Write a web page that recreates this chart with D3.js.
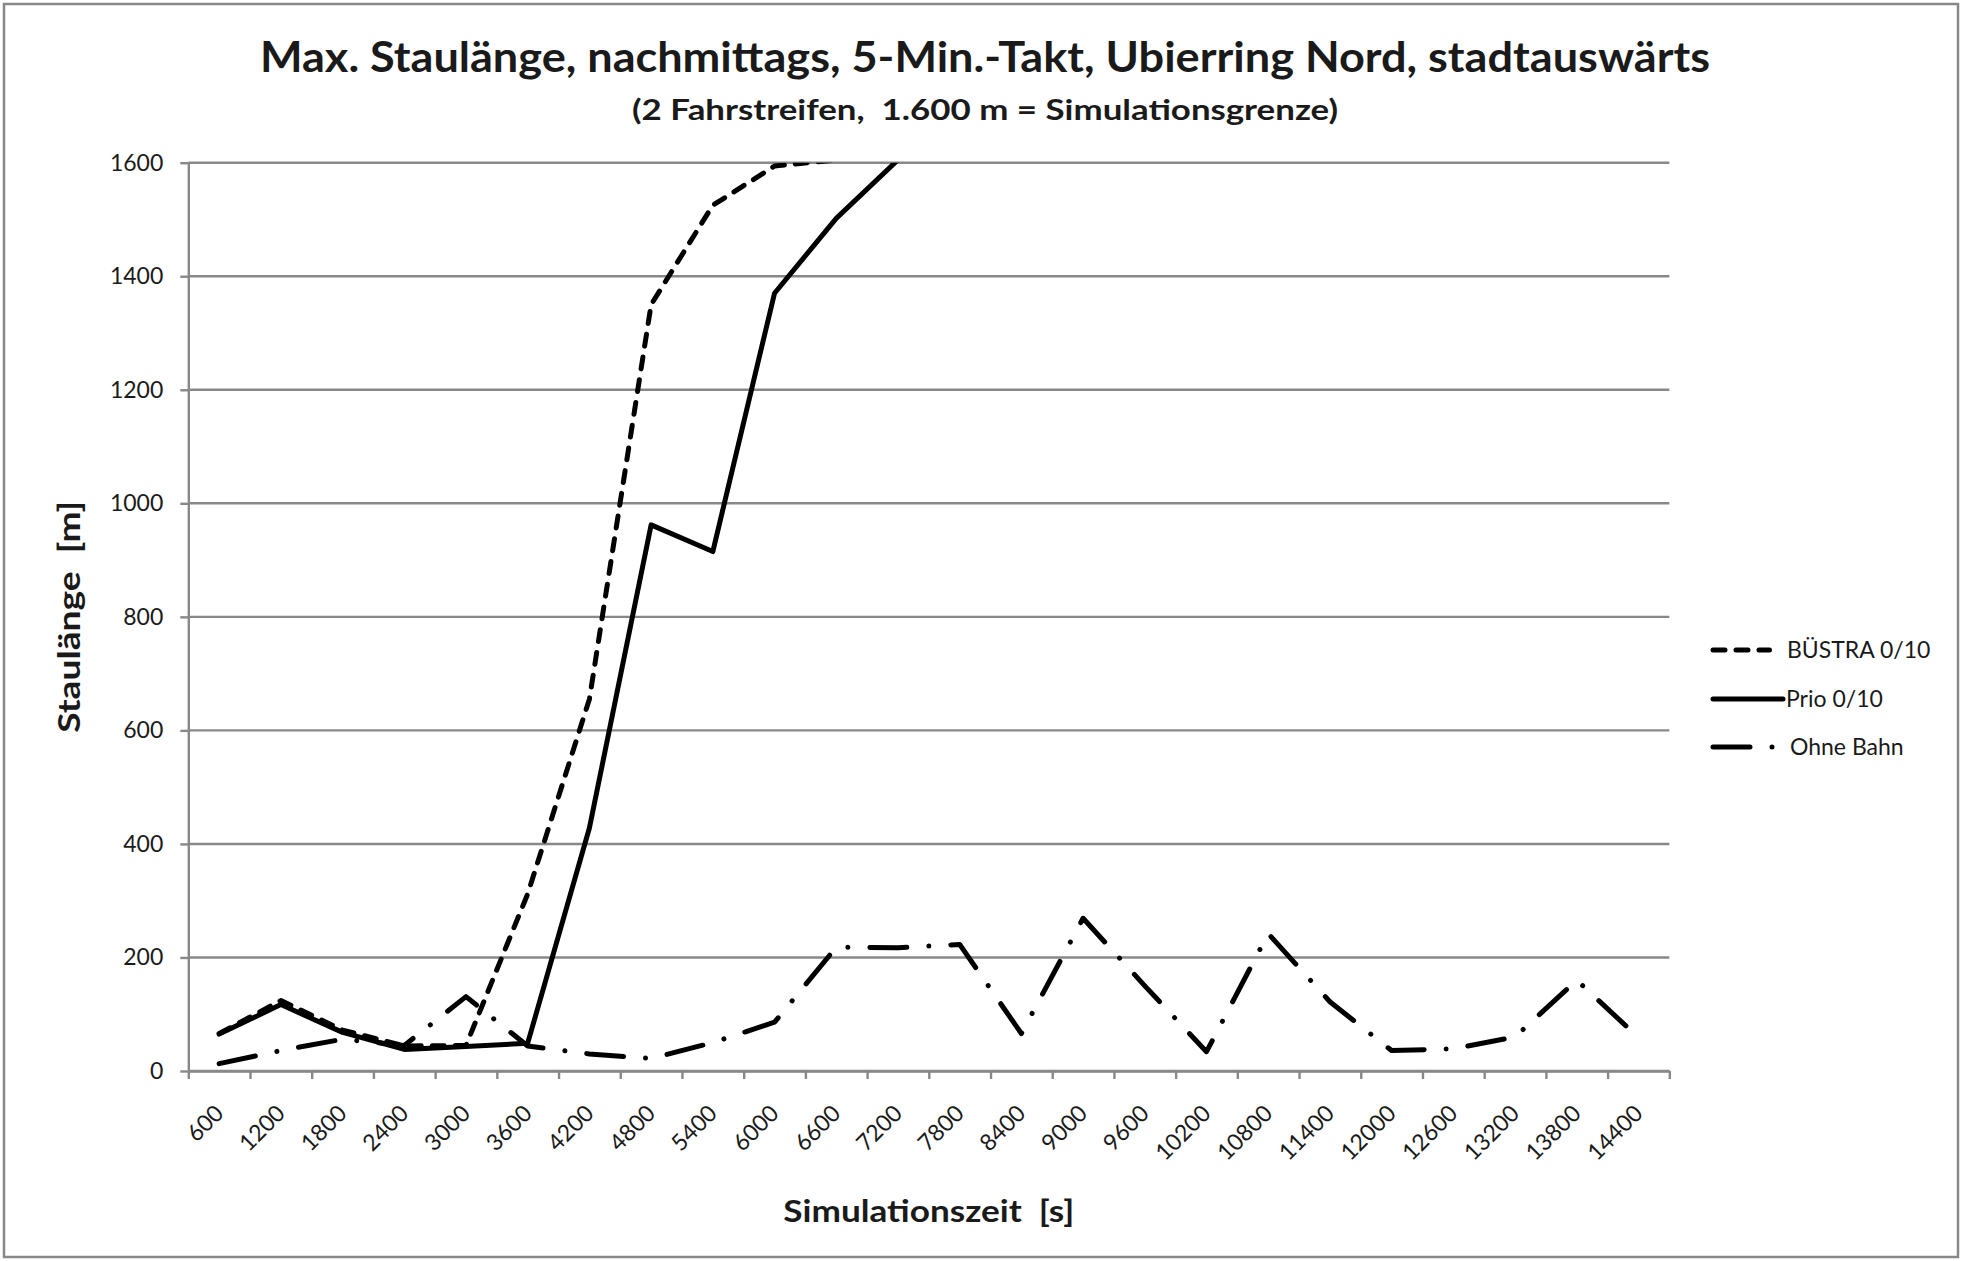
<!DOCTYPE html>
<html>
<head>
<meta charset="utf-8">
<script src="https://cdn.jsdelivr.net/npm/d3@7"></script>
<style>
  body { margin: 0; background: #fff; }
  text { font-family: Lato, "Open Sans", sans-serif; fill: #1a1a1a; }
</style>
</head>
<body>
<div id="figure-container"></div>
<script>
// categories (Simulationszeit [s])
var categories = ['600', '1200', '1800', '2400', '3000', '3600', '4200', '4800', '5400', '6000',
  '6600', '7200', '7800', '8400', '9000', '9600', '10200', '10800', '11400', '12000',
  '12600', '13200', '13800', '14400'];

// max. Staulänge [m]; null = beyond the simulation limit (not drawn)
var buestra = [66, 124, 72, 44, 45, 312, 655, 1350, 1525, 1594,
  1605, null, null, null, null, null, null, null, null, null,
  null, null, null, null];

var prio = [65, 117, 68, 38, 43, 49, 428, 962, 915, 1370,
  1502, 1605, null, null, null, null, null, null, null, null,
  null, null, null, null];

var ohneBahn = [13, 36, 56, 45, 131, 44, 30, 22, 50, 86,
  218, 217, 223, 66, 269, 150, 34, 242, 122, 36,
  39, 60, 160, 59];

var yTicks = [0, 200, 400, 600, 800, 1000, 1200, 1400, 1600];

var series = [
  {name: 'BÜSTRA 0/10', values: buestra, dash: '12 11'},
  {name: 'Prio 0/10', values: prio, dash: null},
  {name: 'Ohne Bahn', values: ohneBahn, dash: '37 22 0.01 22'}
];

var fullWidth = 1966;
var fullHeight = 1261;
var plot = {left: 188.3, right: 1669.3, top: 162.7, bottom: 1071};
var gridColor = '#888888';

var xScale = d3.scaleBand()
  .domain(categories)
  .range([plot.left, plot.right])
  .padding(0);

// boundaries between categories, for the tick marks
var xEdges = d3.scaleLinear()
  .domain([0, categories.length])
  .range([plot.left, plot.right]);

var yScale = d3.scaleLinear()
  .domain([0, 1600])
  .range([plot.bottom, plot.top]);

var svg = d3.select('#figure-container')
  .append('svg')
  .attr('width', fullWidth)
  .attr('height', fullHeight);

// chart border
svg.append('rect')
  .attr('x', 4)
  .attr('y', 4)
  .attr('width', 1954)
  .attr('height', 1253)
  .attr('fill', '#fff')
  .attr('stroke', gridColor)
  .attr('stroke-width', 2.5);

// titles
svg.append('text')
  .attr('x', 985)
  .attr('y', 72)
  .attr('text-anchor', 'middle')
  .attr('font-size', 42)
  .attr('font-weight', 'bold')
  .attr('textLength', 1450)
  .attr('lengthAdjust', 'spacingAndGlyphs')
  .text('Max. Staulänge, nachmittags, 5-Min.-Takt, Ubierring Nord, stadtauswärts');

svg.append('text')
  .attr('x', 985)
  .attr('y', 120)
  .attr('text-anchor', 'middle')
  .attr('font-size', 28)
  .attr('font-weight', 'bold')
  .attr('textLength', 706)
  .attr('lengthAdjust', 'spacingAndGlyphs')
  .attr('xml:space', 'preserve')
  .style('white-space', 'pre')
  .text('(2 Fahrstreifen,  1.600 m = Simulationsgrenze)');

// horizontal gridlines
svg.append('g')
  .attr('class', 'grid')
  .selectAll('line')
  .data(yTicks)
  .enter()
    .append('line')
    .attr('x1', plot.left)
    .attr('x2', plot.right)
    .attr('y1', function(d) { return yScale(d); })
    .attr('y2', function(d) { return yScale(d); })
    .attr('stroke', gridColor)
    .attr('stroke-width', 2.4);

// y axis
var yAxis = d3.axisLeft(yScale)
  .tickValues(yTicks)
  .tickSize(8)
  .tickSizeOuter(0)
  .tickPadding(17)
  .tickFormat(d3.format('d'));

var gy = svg.append('g')
  .attr('class', 'axis y')
  .attr('transform', `translate(${plot.left},0)`)
  .call(yAxis);
gy.selectAll('path, line').attr('stroke', gridColor).attr('stroke-width', 2.4);
gy.selectAll('text').attr('font-size', 23).attr('fill', '#1a1a1a').style('font-family', 'Lato');

// x axis: tick marks on the category boundaries
var xTickAxis = d3.axisBottom(xEdges)
  .tickValues(d3.range(categories.length + 1))
  .tickSize(8)
  .tickSizeOuter(0)
  .tickFormat('');

var gxt = svg.append('g')
  .attr('class', 'axis x')
  .attr('transform', `translate(0,${plot.bottom})`)
  .call(xTickAxis);
gxt.selectAll('path, line').attr('stroke', gridColor).attr('stroke-width', 2.4);

// x axis labels, rotated
var xAxis = d3.axisBottom(xScale).tickSize(0).tickSizeOuter(0);
var gx = svg.append('g')
  .attr('class', 'axis x-labels')
  .attr('transform', `translate(0,${plot.bottom})`)
  .call(xAxis);
gx.select('.domain').remove();
gx.selectAll('text')
  .attr('y', 0)
  .attr('dy', '0.35em')
  .attr('text-anchor', 'end')
  .attr('transform', 'translate(0,38) rotate(-45)')
  .attr('font-size', 23)
  .attr('fill', '#1a1a1a')
  .style('font-family', 'Lato');

// axis titles
svg.append('text')
  .attr('x', (plot.left + plot.right) / 2)
  .attr('y', 1222)
  .attr('text-anchor', 'middle')
  .attr('font-size', 30)
  .attr('font-weight', 'bold')
  .attr('textLength', 291)
  .attr('lengthAdjust', 'spacingAndGlyphs')
  .style('white-space', 'pre')
  .text('Simulationszeit  [s]');

svg.append('text')
  .attr('transform', `translate(80,${(plot.top + plot.bottom) / 2}) rotate(-90)`)
  .attr('text-anchor', 'middle')
  .attr('font-size', 30)
  .attr('font-weight', 'bold')
  .attr('textLength', 232)
  .attr('lengthAdjust', 'spacingAndGlyphs')
  .style('white-space', 'pre')
  .text('Staulänge  [m]');

// clip the lines at the plot area (values above 1600 are cut off)
svg.append('defs').append('clipPath')
  .attr('id', 'clip')
  .append('rect')
  .attr('x', plot.left - 10)
  .attr('y', plot.top)
  .attr('width', plot.right - plot.left + 20)
  .attr('height', plot.bottom - plot.top + 20);

var line = d3.line()
  .defined(function(d) { return d != null; })
  .x(function(d, i) { return xScale(categories[i]) + xScale.bandwidth() / 2; })
  .y(function(d) { return yScale(d); });

svg.append('g')
  .attr('class', 'data-area')
  .attr('clip-path', 'url(#clip)')
  .selectAll('path')
  .data(series)
  .enter()
    .append('path')
    .attr('d', function(d) { return line(d.values); })
    .attr('fill', 'none')
    .attr('stroke', '#000')
    .attr('stroke-width', 5)
    .attr('stroke-linecap', 'round')
    .attr('stroke-linejoin', 'round')
    .attr('stroke-dasharray', function(d) { return d.dash; });

// legend
var legendY = [650, 699, 747];
var legendEnd = [1769.5, 1783, 1777];
var legendTextX = [1787, 1786, 1790];

var legend = svg.append('g')
  .attr('class', 'legend')
  .selectAll('g')
  .data(series)
  .enter()
    .append('g');

legend.append('line')
  .attr('x1', 1713)
  .attr('x2', function(d, i) { return legendEnd[i]; })
  .attr('y1', function(d, i) { return legendY[i]; })
  .attr('y2', function(d, i) { return legendY[i]; })
  .attr('stroke', '#000')
  .attr('stroke-width', 5)
  .attr('stroke-linecap', 'round')
  .attr('stroke-dasharray', function(d) { return d.dash; });

legend.append('text')
  .attr('x', function(d, i) { return legendTextX[i]; })
  .attr('y', function(d, i) { return legendY[i]; })
  .attr('dy', '0.35em')
  .attr('font-size', 23)
  .text(function(d) { return d.name; });
</script>
</body>
</html>
